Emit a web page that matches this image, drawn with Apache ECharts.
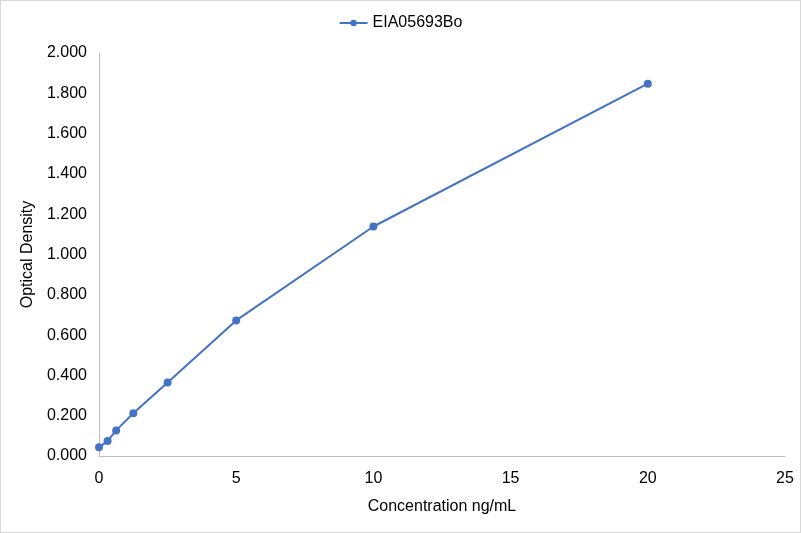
<!DOCTYPE html>
<html><head><meta charset="utf-8">
<script src="https://cdn.jsdelivr.net/npm/echarts@6/dist/echarts.min.js"></script>
<style>html,body{margin:0;padding:0;background:#fff}#c{width:801px;height:533px;box-sizing:border-box;border:1px solid #d9d9d9}</style>
</head><body><div id="c"></div>
<script>
const seriesName = 'EIA05693Bo';
const concentrations = [0, 0.3125, 0.625, 1.25, 2.5, 5, 10, 20];
const opticalDensity = [0.044, 0.074, 0.127, 0.212, 0.365, 0.673, 1.139, 1.848];
const xTicks = [0, 5, 10, 15, 20, 25];
const yTicks = [0, 0.2, 0.4, 0.6, 0.8, 1.0, 1.2, 1.4, 1.6, 1.8, 2.0];

const chart = echarts.init(document.getElementById('c'));
const font = 'Arial, "Liberation Sans", sans-serif';
chart.setOption({
  animation: false,
  legend: {
    top: 9, left: 'center',
    itemWidth: 28, itemHeight: 8, itemGap: 10,
    textStyle: {fontFamily: font, fontSize: 16, color: '#000'},
    data: [seriesName]
  },
  grid: {left: 98, right: 15, top: 52, bottom: 76, containLabel: false},
  xAxis: {
    type: 'value', min: xTicks[0], max: xTicks[xTicks.length-1], interval: 5,
    name: 'Concentration ng/mL', nameLocation: 'middle', nameGap: 43,
    nameTextStyle: {fontFamily: font, fontSize: 16, color: '#000'},
    axisLine: {show: true, lineStyle: {color: '#bfbfbf', width: 1}},
    axisTick: {show: false},
    splitLine: {show: false},
    axisLabel: {fontFamily: font, fontSize: 16, color: '#000', margin: 15}
  },
  yAxis: {
    type: 'value', min: yTicks[0], max: yTicks[yTicks.length-1], interval: 0.2,
    name: 'Optical Density', nameLocation: 'middle', nameGap: 61,
    nameTextStyle: {fontFamily: font, fontSize: 16, color: '#000'},
    axisLine: {show: true, lineStyle: {color: '#bfbfbf', width: 1}},
    axisTick: {show: false},
    splitLine: {show: false},
    axisLabel: {fontFamily: font, fontSize: 16, color: '#000', margin: 12,
      formatter: v => v.toFixed(3)}
  },
  series: [{
    name: seriesName, type: 'line',
    data: concentrations.map((x, i) => [x, opticalDensity[i]]),
    symbol: 'circle', symbolSize: 8,
    lineStyle: {color: '#4472c4', width: 2},
    itemStyle: {color: '#4472c4'}
  }]
});
</script></body></html>
